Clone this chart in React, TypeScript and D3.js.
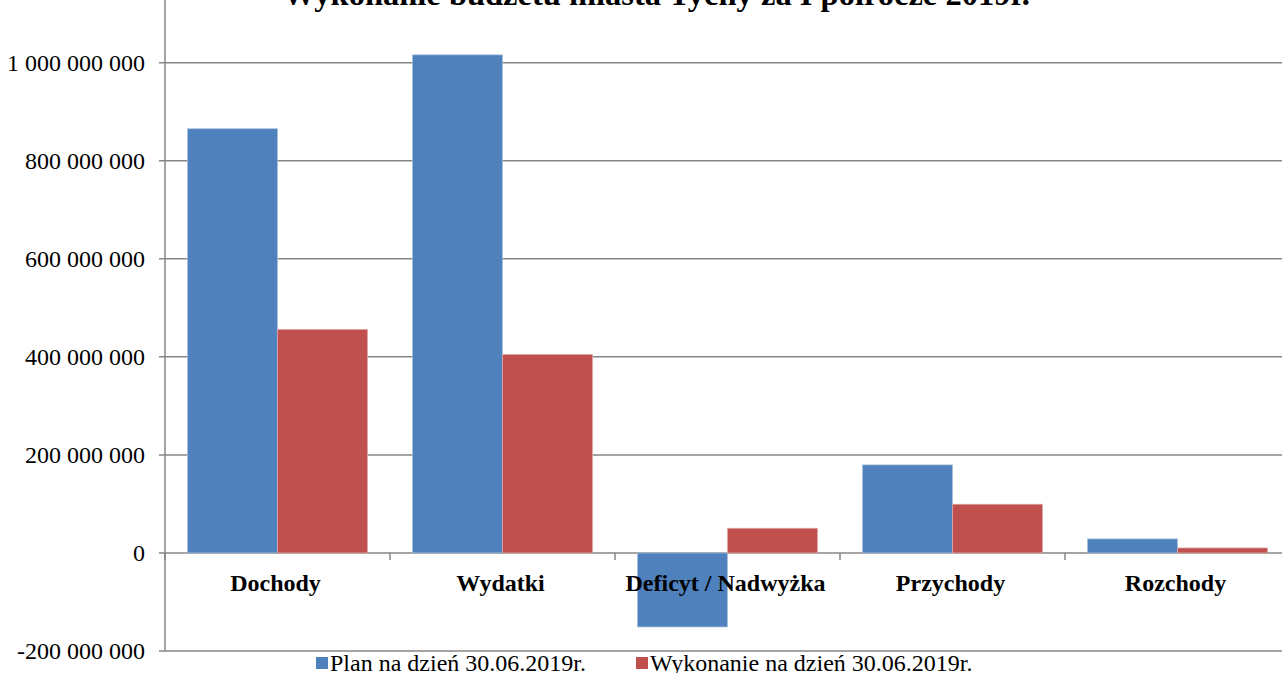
import React from "react";
import * as d3 from "d3";

const categories = ["Dochody", "Wydatki", "Deficyt / Nadwyżka", "Przychody", "Rozchody"];
const seriesNames = ["Plan na dzień 30.06.2019r.", "Wykonanie na dzień 30.06.2019r."];
const planValues = [865300000, 1016000000, -151000000, 179600000, 28600000];
const execValues = [456000000, 405000000, 50400000, 99400000, 10200000];
const yTicks = [-200000000, 0, 200000000, 400000000, 600000000, 800000000, 1000000000, 1200000000];
const colors = ["#4F81BD", "#C0504D"];
const strokeColors = ["#A7C0DE", "#DFA8A6"];
const title = "Wykonanie budżetu miasta Tychy za I półrocze 2019r.";

const W = 1282;
const H = 673;
const FF = "Liberation Serif";

const fmt = (v: number) => {
  const s = d3.format(",")(v);
  return s.replace(/,/g, " ").replace("−", "-");
};

export default function App() {
  const x0 = 165;
  const x = d3.scaleBand<string>().domain(categories).range([x0, x0 + 225 * 5]).paddingInner(0.2).paddingOuter(0.1);
  const xBand = d3.scaleBand<string>().domain(categories).range([x0, x0 + 225 * 5]);
  const xs = d3.scaleBand<number>().domain([0, 1]).range([0, x.bandwidth()]);
  const y = d3.scaleLinear().domain([-200000000, 1000000000]).range([651, 62.7]);
  const series = [planValues, execValues];

  return (
    <div style={{ position: "absolute", left: 0, top: 0 }}>
      <svg width={W} height={H} style={{ display: "block", background: "#fff" }} fontFamily={FF}>
        {yTicks.map((t) => (
          <line key={"g" + t} x1={159} x2={W} y1={y(t)} y2={y(t)} stroke="#868686" strokeWidth={1.5} />
        ))}
        <line x1={x0} x2={x0} y1={y(1200000000)} y2={y(-200000000)} stroke="#868686" strokeWidth={1.5} />
        {categories.map((c) => (
          <line key={"t" + c} x1={xBand(c)!} x2={xBand(c)!} y1={y(0)} y2={y(0) + 7} stroke="#868686" strokeWidth={1.5} />
        ))}
        {series.map((vals, si) =>
          vals.map((v, i) => {
            const bx = x(categories[i])! + xs(si)!;
            const y1 = Math.min(y(v), y(0));
            const h = Math.abs(y(v) - y(0));
            return (
              <rect key={si + "-" + i} x={bx} y={y1} width={xs.bandwidth()} height={h}
                fill={colors[si]} stroke={strokeColors[si]} strokeWidth={0.75} />
            );
          })
        )}
        {yTicks.filter((t) => t <= 1000000000).map((t) => (
          <text key={"l" + t} x={145} y={y(t)} dy="0.35em" textAnchor="end" fontFamily={FF} fontSize={24} fill="#000">
            {fmt(t)}
          </text>
        ))}
        {categories.map((c) => (
          <text key={"c" + c} x={xBand(c)! + xBand.bandwidth() / 2 - 2} y={591} textAnchor="middle" fontFamily={FF} fontSize={24} fontWeight="bold" fill="#000">
            {c}
          </text>
        ))}
        <text x={656.5} y={5} textAnchor="middle" fontFamily={FF} fontSize={32.5} fontWeight="bold" fill="#000">
          {title}
        </text>
        {[316, 636].map((lx, i) => (
          <g key={"lg" + i}>
            <rect x={lx} y={657} width={12} height={12} fill={colors[i]} />
            <text x={lx + 14} y={670.5} fontFamily={FF} fontSize={24} fill="#000">{seriesNames[i]}</text>
          </g>
        ))}
      </svg>
    </div>
  );
}
